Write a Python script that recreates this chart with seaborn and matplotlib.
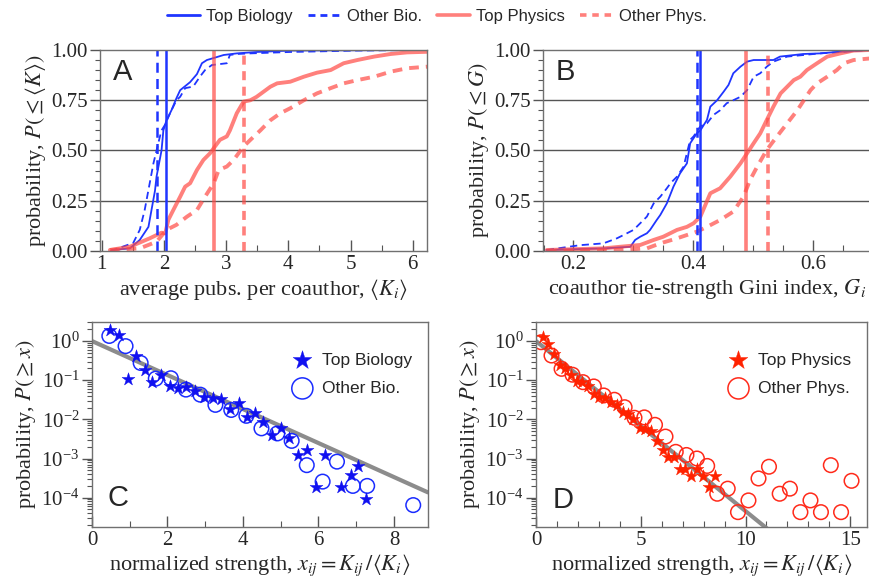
import numpy as np
import matplotlib
matplotlib.use('Agg')
import matplotlib.pyplot as plt
import seaborn as sns
from matplotlib.lines import Line2D
from matplotlib.ticker import MultipleLocator, FixedLocator, LogLocator, NullFormatter

# ---- panel A: CDF of average pubs per coauthor ----
a_top_bio_x = [1.16, 1.45, 1.61, 1.75, 1.855, 1.88, 1.96, 1.99, 2.04, 2.12, 2.20, 2.26, 2.34, 2.42, 2.53,
               2.61, 2.69, 2.80, 2.96, 3.17, 3.49, 4.03, 6.24]
a_top_bio_y = [0.005, 0.013, 0.055, 0.12, 0.30, 0.37, 0.50, 0.60, 0.65, 0.70, 0.76, 0.80, 0.82, 0.84, 0.88,
               0.934, 0.95, 0.96, 0.975, 0.983, 0.99, 0.997, 1.0]
a_oth_bio_x = [1.14, 1.505, 1.61, 1.69, 1.77, 1.83, 1.88, 1.935, 1.96, 2.015, 2.097, 2.20, 2.26, 2.34, 2.47,
               2.58, 2.66, 2.77, 3.01, 3.06, 3.17, 3.39, 4.03, 5.11, 6.24]
a_oth_bio_y = [0.0, 0.04, 0.105, 0.205, 0.337, 0.436, 0.50, 0.57, 0.60, 0.627, 0.685, 0.75, 0.767, 0.81, 0.818,
               0.868, 0.90, 0.925, 0.934, 0.975, 0.98, 0.983, 0.99, 0.997, 1.0]
a_top_phy_x = [1.13, 1.45, 1.77, 1.96, 2.02, 2.07, 2.15, 2.26, 2.34, 2.42, 2.53, 2.634, 2.74, 2.82, 2.90, 3.01,
               3.06, 3.17, 3.28, 3.39, 3.49, 3.71, 3.82, 4.03, 4.25, 4.46, 4.68, 4.89, 5.11, 5.38, 5.645, 5.91, 6.24]
a_top_phy_y = [0.005, 0.021, 0.063, 0.091, 0.088, 0.155, 0.204, 0.27, 0.32, 0.337, 0.403, 0.453, 0.486, 0.52,
               0.553, 0.57, 0.60, 0.685, 0.743, 0.75, 0.767, 0.817, 0.834, 0.842, 0.867, 0.887, 0.90, 0.934,
               0.95, 0.967, 0.98, 0.988, 0.991]
a_oth_phy_x = [1.13, 1.61, 1.88, 2.04, 2.20, 2.37, 2.53, 2.66, 2.80, 2.88, 3.01, 3.12, 3.28, 3.39, 3.55, 3.71,
               3.87, 4.03, 4.25, 4.46, 4.68, 4.89, 5.11, 5.38, 5.645, 5.91, 6.24]
a_oth_phy_y = [0.005, 0.013, 0.046, 0.105, 0.13, 0.171, 0.204, 0.27, 0.337, 0.403, 0.42, 0.453, 0.52, 0.553,
               0.60, 0.65, 0.685, 0.71, 0.75, 0.784, 0.81, 0.834, 0.85, 0.867, 0.892, 0.909, 0.917]
a_means = [2.03, 1.89, 2.81, 3.28]  # top bio, other bio, top phys, other phys

# ---- panel B: CDF of Gini index ----
b_top_bio_x = [0.155, 0.250, 0.295, 0.303, 0.3115, 0.3226, 0.328, 0.339, 0.345, 0.356, 0.367, 0.378, 0.3895,
               0.395, 0.406, 0.412, 0.423, 0.4286, 0.440, 0.451, 0.459, 0.467, 0.479, 0.49, 0.501, 0.534,
               0.545, 0.584, 0.612, 0.640, 0.696]
b_top_bio_y = [0.005, 0.013, 0.021, 0.055, 0.071, 0.088, 0.105, 0.154, 0.179, 0.237, 0.32, 0.386, 0.436,
               0.536, 0.585, 0.60, 0.652, 0.718, 0.75, 0.793, 0.826, 0.884, 0.917, 0.942, 0.95, 0.95,
               0.967, 0.98, 0.983, 0.99, 1.0]
b_oth_bio_x = [0.1555, 0.211, 0.250, 0.2725, 0.284, 0.3004, 0.3115, 0.3226, 0.334, 0.345, 0.356, 0.362, 0.373,
               0.384, 0.395, 0.4006, 0.412, 0.423, 0.434, 0.445, 0.456, 0.467, 0.479, 0.49, 0.501, 0.512,
               0.523, 0.534, 0.557, 0.612, 0.696]
b_oth_bio_y = [0.005, 0.029, 0.038, 0.063, 0.08, 0.105, 0.138, 0.171, 0.237, 0.27, 0.312, 0.337, 0.37, 0.42,
               0.553, 0.57, 0.62, 0.635, 0.677, 0.70, 0.735, 0.75, 0.767, 0.80, 0.867, 0.884, 0.917, 0.942,
               0.967, 0.983, 1.0]
b_top_phy_x = [0.1555, 0.250, 0.278, 0.3115, 0.334, 0.350, 0.373, 0.3895, 0.4006, 0.412, 0.4286, 0.445,
               0.462, 0.479, 0.49, 0.501, 0.512, 0.523, 0.534, 0.546, 0.557, 0.568, 0.579, 0.590, 0.607,
               0.624, 0.646, 0.668, 0.696]
b_top_phy_y = [0.005, 0.013, 0.021, 0.03, 0.055, 0.071, 0.105, 0.12, 0.138, 0.171, 0.287, 0.312, 0.37,
               0.436, 0.486, 0.536, 0.585, 0.652, 0.718, 0.784, 0.817, 0.85, 0.867, 0.90, 0.934, 0.967,
               0.983, 0.997, 1.0]
b_oth_phy_x = [0.1555, 0.278, 0.3226, 0.345, 0.373, 0.406, 0.423, 0.445, 0.467, 0.484, 0.495, 0.507, 0.523,
               0.540, 0.557, 0.574, 0.585, 0.596, 0.607, 0.624, 0.64, 0.652, 0.668, 0.696]
b_oth_phy_y = [0.0, 0.005, 0.013, 0.038, 0.063, 0.096, 0.12, 0.154, 0.196, 0.27, 0.353, 0.42, 0.503, 0.57,
               0.635, 0.70, 0.75, 0.80, 0.834, 0.867, 0.90, 0.934, 0.95, 0.958]
b_means = [0.411, 0.406, 0.488, 0.525]

# ---- panel C: CCDF of normalized strength, biology (log10 of P) ----
c_top_x = [0.49, 0.71, 0.96, 1.16, 1.40, 1.60, 1.82, 2.06, 2.29, 2.49, 2.74, 2.98, 3.20, 3.43, 3.65, 3.89,
           4.11, 4.33, 4.53, 4.77, 5.00, 5.23, 5.47, 5.69, 5.93, 6.16, 6.60, 6.85, 7.05, 7.27]
c_top_logp = [0.27, 0.16, -0.98, -0.37, -0.73, -1.05, -0.88, -1.14, -1.21, -1.18, -1.28, -1.42, -1.45, -1.49,
              -1.73, -1.59, -1.93, -1.84, -2.08, -2.40, -2.21, -2.48, -2.90, -2.78, -3.74, -2.91, -3.74,
              -3.43, -3.18, -4.04]
c_oth_x = [0.46, 0.89, 1.29, 1.69, 2.09, 2.49, 2.87, 3.27, 3.69, 4.09, 4.49, 4.91, 5.29, 5.69, 6.11, 6.49,
           6.91, 7.29, 8.51]
c_oth_logp = [0.13, -0.13, -0.56, -0.96, -0.95, -1.24, -1.37, -1.63, -1.76, -1.91, -2.23, -2.36, -2.55,
              -3.17, -3.59, -3.08, -3.70, -3.70, -4.19]

# ---- panel D: CCDF of normalized strength, physics ----
d_top_x = [0.32, 0.58, 0.87, 1.14, 1.39, 1.66, 1.94, 2.21, 2.49, 2.76, 3.03, 3.31, 3.58, 3.86, 4.13, 4.39,
           4.65, 4.94, 5.21, 5.49, 5.76, 6.04, 6.31, 6.58, 6.86, 7.13, 7.41, 7.68, 7.97, 8.25, 8.52]
d_top_logp = [0.10, -0.07, -0.32, -0.60, -0.68, -0.88, -1.01, -1.05, -1.16, -1.35, -1.42, -1.45, -1.56,
              -1.63, -1.80, -1.86, -1.99, -2.21, -2.25, -2.29, -2.55, -2.78, -2.97, -2.97, -3.26, -3.26,
              -3.44, -3.26, -3.44, -3.74, -3.44]
d_oth_x = [0.24, 0.74, 1.22, 1.74, 2.24, 2.76, 3.23, 3.74, 4.23, 4.70, 5.17, 5.68, 6.18, 6.67, 7.18, 7.68,
           8.17, 8.65, 9.15, 9.64, 10.14, 10.62, 11.12, 11.63, 12.12, 12.62, 13.10, 13.60, 14.07, 14.56, 15.06]
d_oth_logp = [-0.03, -0.37, -0.71, -0.86, -1.05, -1.16, -1.39, -1.50, -1.69, -1.96, -1.95, -2.14, -2.44,
              -2.83, -2.91, -3.00, -3.19, -3.90, -3.77, -4.37, -4.07, -3.51, -3.21, -3.90, -3.77, -4.37,
              -4.07, -4.37, -3.17, -4.37, -3.57]

blue = '#1f35ff'
salmon = '#ff4a45'
red = '#ff2200'
grey_fit = '#8c8c8c'

sns.set_style('ticks')
plt.rcParams['font.family'] = 'serif'
plt.rcParams['font.serif'] = ['Liberation Serif', 'DejaVu Serif']
plt.rcParams['mathtext.fontset'] = 'stix'
plt.rcParams['axes.edgecolor'] = '#707070'
plt.rcParams['axes.linewidth'] = 1.0

fig = plt.figure(figsize=(8.7, 5.81), dpi=100)
axA = fig.add_axes([0.1149, 0.568, 0.3759, 0.346])
axB = fig.add_axes([0.6241, 0.568, 0.377, 0.346])
axC = fig.add_axes([0.1057, 0.0929, 0.3862, 0.3528])
axD = fig.add_axes([0.6161, 0.0929, 0.3805, 0.3528])

sans = 'Liberation Sans'
thin = 1.3
thick = 2.8
s_alpha = 0.7


def cdf_panel(ax, data, means):
    (tbx, tby), (obx, oby), (tpx, tpy), (opx, opy) = data
    for yy in [0.25, 0.5, 0.75]:
        ax.axhline(yy, color='#555555', lw=1.0, zorder=0)
    sns.lineplot(x=tbx, y=tby, ax=ax, color=blue, lw=thin, sort=False, estimator=None)
    sns.lineplot(x=obx, y=oby, ax=ax, color=blue, lw=thin, linestyle=(0, (4, 2.5)), sort=False, estimator=None)
    sns.lineplot(x=tpx, y=tpy, ax=ax, color=salmon, lw=thick, alpha=s_alpha, sort=False, estimator=None)
    sns.lineplot(x=opx, y=opy, ax=ax, color=salmon, lw=thick, alpha=s_alpha, linestyle=(0, (2.5, 1.8)),
                 sort=False, estimator=None)
    ax.axvline(means[0], color=blue, lw=1.8)
    ax.axvline(means[1], color=blue, lw=1.8, linestyle=(0, (4, 2.5)))
    ax.axvline(means[2], color=salmon, lw=2.6, alpha=s_alpha)
    ax.axvline(means[3], color=salmon, lw=2.6, alpha=s_alpha, linestyle=(0, (2.5, 1.8)))
    ax.set_ylim(0, 1)
    ax.yaxis.set_major_locator(MultipleLocator(0.25))
    ax.yaxis.set_minor_locator(MultipleLocator(0.05))
    ax.yaxis.set_major_formatter(matplotlib.ticker.FormatStrFormatter('%.2f'))


cdf_panel(axA, [(a_top_bio_x, a_top_bio_y), (a_oth_bio_x, a_oth_bio_y),
                (a_top_phy_x, a_top_phy_y), (a_oth_phy_x, a_oth_phy_y)], a_means)
axA.set_xlim(0.97, 6.23)
axA.xaxis.set_major_locator(MultipleLocator(1))
axA.xaxis.set_minor_locator(MultipleLocator(0.5))
axA.set_xlabel(r'average pubs. per coauthor, $\langle K_i \rangle$', fontsize=16, labelpad=2)
axA.set_ylabel(r'probability, $P(\leq\langle K\rangle)$', fontsize=16, labelpad=2)

cdf_panel(axB, [(b_top_bio_x, b_top_bio_y), (b_oth_bio_x, b_oth_bio_y),
                (b_top_phy_x, b_top_phy_y), (b_oth_phy_x, b_oth_phy_y)], b_means)
axB.set_xlim(0.149, 0.697)
axB.xaxis.set_major_locator(MultipleLocator(0.2))
axB.xaxis.set_minor_locator(MultipleLocator(0.05))
axB.xaxis.set_major_formatter(matplotlib.ticker.FormatStrFormatter('%.1f'))
axB.set_xlabel(r'coauthor tie-strength Gini index, $G_i$', fontsize=16, labelpad=2)
axB.set_ylabel(r'probability, $P(\leq G)$', fontsize=16, labelpad=2)


def ccdf_panel(ax, tx, tlp, ox, olp, col_star, col_circ, labels, xmax):
    xs = np.linspace(0, xmax, 50)
    ax.plot(xs, np.exp(-xs), color=grey_fit, lw=3, zorder=1)
    sns.scatterplot(x=tx, y=10 ** np.array(tlp), ax=ax, marker='*', s=95, color=col_star,
                    edgecolor=col_star, linewidth=0.3, label=labels[0], zorder=3)
    sns.scatterplot(x=ox, y=10 ** np.array(olp), ax=ax, marker='o', s=110, color=col_circ,
                    facecolors='none', edgecolor=col_circ, linewidth=1.1, label=labels[1], zorder=2)
    ax.set_yscale('log')
    ax.set_ylim(10 ** -4.75, 10 ** 0.485)
    ax.yaxis.set_major_locator(FixedLocator([1, 1e-1, 1e-2, 1e-3, 1e-4]))
    ax.yaxis.set_minor_locator(LogLocator(base=10, subs=np.arange(2, 10), numticks=20))
    ax.yaxis.set_minor_formatter(NullFormatter())
    ax.set_xlabel(r'normalized strength, $x_{ij} = K_{ij}\,/\langle K_i \rangle$', fontsize=16, labelpad=2)
    ax.set_ylabel(r'probability, $P(\geq x)$', fontsize=16, labelpad=2)
    ax.legend(loc='upper right', bbox_to_anchor=(0.99, 0.91), frameon=False, markerscale=1.45,
              prop={'family': sans, 'size': 12.5}, handletextpad=0.15, labelspacing=0.75, borderpad=0.2)


ccdf_panel(axC, c_top_x, c_top_logp, c_oth_x, c_oth_logp, '#1010f0', '#1a2cff',
           ['Top Biology', 'Other Bio.'], 8.9)
axC.set_xlim(0, 8.9)
axC.xaxis.set_major_locator(MultipleLocator(2))
axC.xaxis.set_minor_locator(MultipleLocator(1))

ccdf_panel(axD, d_top_x, d_top_logp, d_oth_x, d_oth_logp, red, '#ff2a1a',
           ['Top Physics', 'Other Phys.'], 15.8)
axD.set_xlim(0, 15.8)
axD.xaxis.set_major_locator(MultipleLocator(5))
axD.xaxis.set_minor_locator(MultipleLocator(1))

for ax in [axA, axB, axC, axD]:
    for side in ['top', 'right']:
        ax.spines[side].set_visible(True)
    ax.tick_params(axis='x', which='major', direction='in', length=8, width=1, color='#555555',
                   labelsize=15, pad=3)
    ax.tick_params(axis='x', which='minor', direction='in', length=4, width=0.8, color='#555555')
    ax.tick_params(axis='y', which='major', direction='out', length=7, width=1, color='#555555',
                   labelsize=15, pad=2)
    ax.tick_params(axis='y', which='minor', direction='out', length=3.5, width=0.8, color='#555555')
    ax.xaxis.set_ticks_position('bottom')
    ax.yaxis.set_ticks_position('left')
    for lab in ax.get_xticklabels() + ax.get_yticklabels():
        lab.set_family('serif')

axA.text(0.04, 0.89, 'A', transform=axA.transAxes, fontsize=21, family=sans, va='center')
axB.text(0.04, 0.89, 'B', transform=axB.transAxes, fontsize=21, family=sans, va='center')
axC.text(0.045, 0.14, 'C', transform=axC.transAxes, fontsize=21, family=sans, va='center')
axD.text(0.05, 0.13, 'D', transform=axD.transAxes, fontsize=21, family=sans, va='center')

handles = [Line2D([], [], color=blue, lw=2),
           Line2D([], [], color=blue, lw=2, linestyle=(0, (2.5, 1.8))),
           Line2D([], [], color=salmon, lw=2.6, alpha=s_alpha),
           Line2D([], [], color=salmon, lw=2.6, alpha=s_alpha, linestyle=(0, (1.8, 1.6)))]
fig.legend(handles, ['Top Biology', 'Other Bio.', 'Top Physics', 'Other Phys.'], loc='center',
           bbox_to_anchor=(0.502, 0.972), ncol=4, frameon=False, prop={'family': sans, 'size': 12},
           handlelength=2.0, handletextpad=0.35, columnspacing=0.9)

fig.savefig('out.png', dpi=100)
